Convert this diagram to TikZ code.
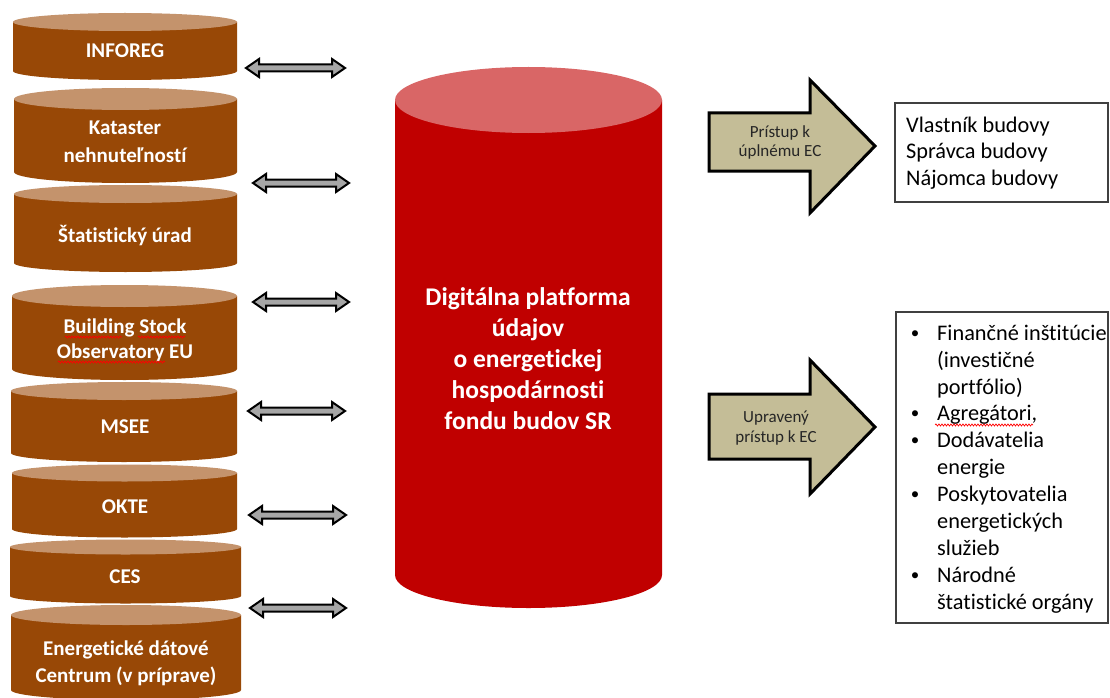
\documentclass[tikz,border=0pt]{standalone}
\usepackage{fontspec}
\setmainfont{Carlito}[Ligatures=NoCommon]
\usetikzlibrary{decorations.pathmorphing}
\definecolor{brbody}{RGB}{152,72,6}
\definecolor{brtop}{RGB}{196,147,108}
\definecolor{redbody}{RGB}{192,0,0}
\definecolor{redtop}{RGB}{217,102,102}
\definecolor{tanfill}{RGB}{196,189,151}
\definecolor{arrgray}{RGB}{166,166,166}
\definecolor{boxline}{RGB}{64,64,64}
\newcommand{\mycyl}[7]{%
  \fill[#6] (#1,#3) -- (#1,#4) arc[start angle=180,end angle=0,x radius={(#2-#1)/2},y radius=#5] -- (#2,#3) -- cycle;
  \fill[#7] ({(#1+#2)/2},#3) ellipse[x radius={(#2-#1)/2},y radius=#5];
}
\newcommand{\dblarrow}[3]{%
  \draw[dblarr] (#1+1,#3) -- (#1+14,#3-9) -- (#1+14,#3-3.5) -- (#2-14,#3-3.5) -- (#2-14,#3-9) -- (#2-1,#3)
    -- (#2-14,#3+9) -- (#2-14,#3+3.5) -- (#1+14,#3+3.5) -- (#1+14,#3+9) -- cycle;
}
\tikzset{
  cyltext/.style={anchor=base, text=white, font=\fontsize{21}{25}\selectfont\bfseries, inner sep=0},
  bigtext/.style={anchor=base, text=white, font=\fontsize{25.5}{31}\selectfont\bfseries, inner sep=0},
  arrtext/.style={anchor=base, text=black!85, font=\fontsize{17}{20}\selectfont, inner sep=0},
  boxtext/.style={anchor=base west, text=black, font=\fontsize{22.3}{27}\selectfont, inner sep=0},
  bul/.style={anchor=base, text=black, font=\fontsize{17}{27}\selectfont, inner sep=0},
  dblarr/.style={draw=black, line width=2pt, fill=arrgray, line join=miter},
  bigarr/.style={draw=black, line width=3pt, fill=tanfill, line join=miter},
  listbox/.style={draw=boxline, line width=1.5pt},
  spell/.style={draw=red, line width=0.7pt, decorate, decoration={snake, amplitude=1pt, segment length=3pt}}
}
\begin{document}
\begin{tikzpicture}[x=1pt,y=-1pt]
\useasboundingbox (0,0) rectangle (1110,698);
\clip (0,0) rectangle (1110,698);
\fill[white] (0,0) rectangle (1110,698);

% left cylinders
\mycyl{13}{237}{22}{71}{9}{brbody}{brtop}
\mycyl{14}{237}{99}{172}{11}{brbody}{brtop}
\mycyl{14}{237}{194}{263}{9}{brbody}{brtop}
\mycyl{12}{237}{296}{369}{11}{brbody}{brtop}
\mycyl{11}{237}{391}{453}{9}{brbody}{brtop}
\mycyl{12}{237}{473}{529}{8.5}{brbody}{brtop}
\mycyl{10}{241}{547}{596}{7.5}{brbody}{brtop}
\mycyl{11}{241}{615}{690}{10}{brbody}{brtop}

\node[cyltext] (t1) at (125,58) {INFOREG};
\node[cyltext] (t2a) at (125,135) {Kataster};
\node[cyltext] (t2b) at (125,162) {nehnuteľností};
\node[cyltext] (t3) at (125,242) {Štatistický úrad};
\node[cyltext] (t4a) at (125,333) {Building Stock};
\node[cyltext] (t4b) at (125,358) {Observatory EU};
\node[cyltext] (t5) at (125,433) {MSEE};
\node[cyltext] (t6) at (125,513) {OKTE};
\node[cyltext] (t7) at (125,583) {CES};
\node[cyltext] (t8a) at (126,655) {Energetické dátové};
\node[cyltext] (t8b) at (126,682) {Centrum (v príprave)};

% spell-check underlines
\draw[spell] (65,337) -- (122,337);
\draw[spell] (138,337) -- (185,337);
\draw[spell] (58,362) -- (165,362);

% double arrows
\dblarrow{245}{346}{68}
\dblarrow{252}{350}{183}
\dblarrow{252}{350}{302}
\dblarrow{247}{346}{411}
\dblarrow{248}{347}{515}
\dblarrow{249}{347}{608}

% central cylinder
\mycyl{395}{662}{100}{575}{33}{redbody}{redtop}
\node[bigtext] (c1) at (528,305) {Digitálna platforma};
\node[bigtext] (c2) at (528,336) {údajov};
\node[bigtext] (c3) at (528,367) {o energetickej};
\node[bigtext] (c4) at (528,398) {hospodárnosti};
\node[bigtext] (c5) at (528,429) {fondu budov SR};

% big arrows
\draw[bigarr] (709,113) -- (810,113) -- (810,80) -- (875,146) -- (810,213) -- (810,171) -- (709,171) -- cycle;
\node[arrtext] (a1a) at (780,137) {Prístup k};
\node[arrtext] (a1b) at (780,156) {úplnému EC};
\draw[bigarr] (709,394) -- (810,394) -- (810,360) -- (875,427) -- (810,494) -- (810,459) -- (709,459) -- cycle;
\node[arrtext] (a2a) at (776,422) {Upravený};
\node[arrtext] (a2b) at (776,442) {prístup k EC};

% box 1
\draw[listbox] (895,103) rectangle (1108,202);
\node[boxtext] (b1) at (906,132) {Vlastník budovy};
\node[boxtext] (b2) at (906,158) {Správca budovy};
\node[boxtext] (b3) at (906,185) {Nájomca budovy};

% box 2
\draw[listbox] (896,312) rectangle (1108,623);
\node[bul] (u1) at (915,338) {\textbullet};
\node[bul] (u2) at (915,418) {\textbullet};
\node[bul] (u3) at (915,445) {\textbullet};
\node[bul] (u4) at (915,499) {\textbullet};
\node[bul] (u5) at (915,580) {\textbullet};
\node[boxtext] (l1) at (937,340) {Finančné inštitúcie};
\node[boxtext] (l2) at (937,367) {(investičné};
\node[boxtext] (l3) at (937,394) {portfólio)};
\node[boxtext] (l4) at (937,420) {Agregátori,};
\node[boxtext] (l5) at (937,447) {Dodávatelia};
\node[boxtext] (l6) at (937,474) {energie};
\node[boxtext] (l7) at (937,501) {Poskytovatelia};
\node[boxtext] (l8) at (937,528) {energetických};
\node[boxtext] (l9) at (937,555) {služieb};
\node[boxtext] (l10) at (937,582) {Národné};
\node[boxtext] (l11) at (937,609) {štatistické orgány};
\draw[spell] (935,425) -- (1033,425);
\end{tikzpicture}
\end{document}
